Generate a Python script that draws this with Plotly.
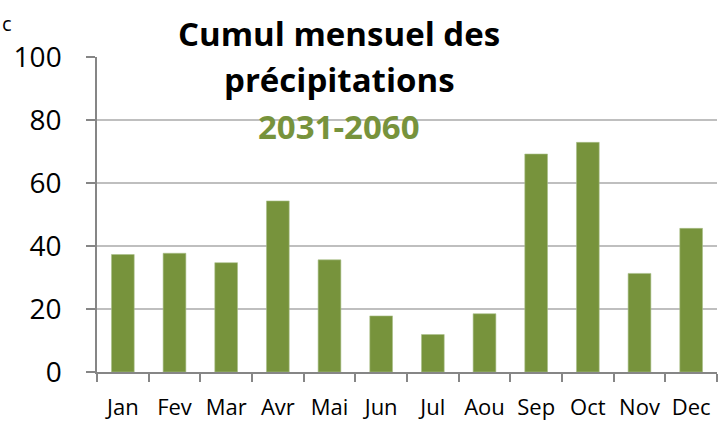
import plotly.graph_objects as go

months = ["Jan", "Fev", "Mar", "Avr", "Mai", "Jun", "Jul", "Aou", "Sep", "Oct", "Nov", "Dec"]
precip = [37.3, 37.7, 34.7, 54.3, 35.6, 17.8, 11.9, 18.5, 69.2, 72.9, 31.3, 45.6]
y_ticks = [0, 20, 40, 60, 80, 100]

title_line1 = "Cumul mensuel des"
title_line2 = "précipitations"
title_line3 = "2031-2060"

GREEN = "#77933C"
FONT = "Open Sans"

fig = go.Figure(go.Bar(x=months, y=precip, marker=dict(color=GREEN, line=dict(width=0.6, color="#A9C08A")), width=0.44))

fig.update_layout(
    width=720, height=424,
    margin=dict(l=97, r=3, t=57, b=52, autoexpand=False),
    paper_bgcolor="white", plot_bgcolor="white",
    showlegend=False,
    font=dict(family=FONT, color="black"),
)
fig.update_xaxes(
    automargin=False,
    showline=True, linecolor="#868686", linewidth=1.5,
    ticks="outside", tickson="boundaries", ticklen=8, tickcolor="#868686", tickwidth=1.5,
    tickfont=dict(size=22, family=FONT, color="black"),
    tickangle=0,
    ticklabelstandoff=15,
    showgrid=False,
)
fig.update_yaxes(
    automargin=False,
    range=[0, 100], tickvals=y_ticks,
    showline=True, linecolor="#868686", linewidth=1.5,
    ticks="outside", ticklen=9, tickcolor="#868686", tickwidth=1.5,
    tickfont=dict(size=28, family=FONT, color="black"),
    ticklabelstandoff=19,
    showgrid=True, gridcolor="#BFBFBF", gridwidth=1.5,
    zeroline=False,
)

def px_x(x):
    return (x - 97) / 620

def px_y(y):
    return (372 - y) / 315

anns = [
    dict(text="<b>%s</b>" % title_line1, x=px_x(339), y=px_y(33), size=33, color="black"),
    dict(text="<b>%s</b>" % title_line2, x=px_x(339), y=px_y(79), size=33, color="black"),
    dict(text="<b>%s</b>" % title_line3, x=px_x(339), y=px_y(126), size=33, color=GREEN),
]
for a in anns:
    fig.add_annotation(
        text=a["text"], x=a["x"], y=a["y"], xref="paper", yref="paper",
        xanchor="center", yanchor="middle", showarrow=False,
        font=dict(size=a["size"], color=a["color"], family=FONT),
    )
fig.add_annotation(
    text="c", x=px_x(7), y=px_y(24), xref="paper", yref="paper", showarrow=False,
    xanchor="center", yanchor="middle",
    font=dict(size=20, family=FONT, color="black"),
)

fig.write_html(
    "out.html",
    config={"displayModeBar": False},
    post_script="document.body.style.margin='0';document.body.style.padding='0';document.body.style.overflow='hidden';",
)
